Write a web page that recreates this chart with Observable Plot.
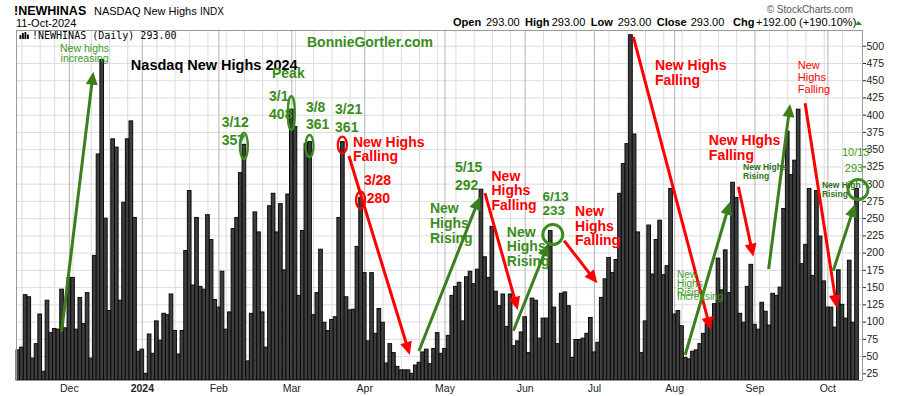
<!DOCTYPE html>
<html><head><meta charset="utf-8">
<script src="https://cdn.jsdelivr.net/npm/d3@7"></script>
<script src="https://cdn.jsdelivr.net/npm/@observablehq/plot@0.6"></script>
<style>body{margin:0;background:#fff;} svg{display:block}</style>
</head><body><div id="chart"></div>
<script>
// ---- data ----
const startDate = "2023-11-10";
const endDate = "2024-10-11";
const holidays = ["2023-11-23","2023-12-25","2024-01-01","2024-01-15","2024-02-19","2024-03-29","2024-05-27","2024-06-19","2024-07-04","2024-09-02"];
const novValues = [59,63,139,136,47,68,111,28,131,84,90,89,147,91];
const decValues = [164,164,89,135,97,142,47,196,343,480,250,116,365,353,131,273,365,391,251,57];
const janValues = [60,25,82,54,101,73,112,110,140,87,53,87,203,290,153,251,151,147,255,219,132];
const febValues = [121,173,89,114,235,251,316,357,43,112,259,230,114,63,268,286,230,271,175,285];
const marValues = [408,383,138,232,358,361,110,142,205,99,87,103,107,251,361,136,117,118,209,280];
const aprValues = [171,72,171,83,119,99,40,68,55,35,30,30,30,25,37,41,56,60,39,61,84,54];
const mayValues = [61,80,138,151,157,101,165,173,155,176,292,194,164,238,144,123,140,93,140,65,72,85];
const junValues = [107,55,134,131,76,105,105,232,121,68,141,143,123,48,74,74,76,83,106];
const julValues = [56,70,135,162,193,171,190,286,329,358,516,372,230,55,101,240,169,219,247,168,181,293];
const augValues = [111,116,94,48,46,57,59,68,83,97,105,126,192,146,204,142,302,280,112,99,151,183];
const sepValues = [96,89,128,115,95,141,138,150,264,376,313,334,408,184,212,293,167,290,224,159];
const octValues = [121,121,92,175,125,105,189,99,293];
const monthLabels = ["Dec","2024","Feb","Mar","Apr","May","Jun","Jul","Aug","Sep","Oct"];
const yTicks = [25,50,75,100,125,150,175,200,225,250,275,300,325,350,375,400,425,450,475,500];
const yDomain = [15.3, 522.8];

// annotations in data units: [text, barIndex, value, style]
const noteTexts = [
 ["New highs", 18.3, 490.9, "smallGreenMid"],
 ["increasing", 18.3, 476.4, "smallGreenMid"],
 ["Nasdaq New Highs 2024", 31.0, 464.8, "title"],
 ["BonnieGortler.com", 79.3, 498.8, "site"],
 ["Peak", 69.7, 453.2, "green"],
 ["3/12", 55.9, 382.6, "green"], ["357", 55.9, 356, "green"],
 ["3/1", 68.9, 420.2, "green"], ["408", 68.9, 393.7, "green"],
 ["3/8", 79.0, 404.3, "green"], ["361", 79.0, 379.2, "green"],
 ["3/21", 87.0, 400.9, "green"], ["361", 87.0, 375.3, "green"],
 ["New Highs", 91.9, 353.5, "red"], ["Falling", 91.9, 332.8, "red"],
 ["3/28", 94.9, 298, "red"], ["280", 95.7, 271.9, "red"],
 ["New", 113.0, 257.9, "green"], ["Highs", 113.0, 235.7, "green"], ["Rising", 113.0, 213.9, "green"],
 ["5/15", 119.9, 317.3, "green"], ["292", 119.9, 290.8, "green"],
 ["New", 129.9, 304.3, "red"], ["Highs", 129.9, 283.5, "red"], ["Falling", 129.9, 261.8, "red"],
 ["New", 134.1, 223, "green"], ["Highs", 134.1, 202.3, "green"], ["Rising", 134.1, 181.3, "green"],
 ["6/13", 143.9, 275.3, "greenMid"], ["233", 143.9, 254.5, "greenMid"],
 ["New", 152.8, 253.5, "red"], ["Highs", 152.8, 232, "red"], ["Falling", 152.8, 211, "red"],
 ["New Highs", 174.7, 465.5, "red"], ["Falling", 174.7, 443, "red"],
 ["New", 180.8, 163.2, "tinyGreen"], ["Highs", 180.8, 150.1, "tinyGreen"],
 ["Rising", 180.8, 137.1, "tinyGreen"], ["Increasing", 180.8, 131.3, "tinyGreen"],
 ["New HIghs", 189.5, 356, "red"], ["Falling", 189.5, 334.3, "red"],
 ["New Highs", 198.9, 319.8, "microGreen"], ["Rising", 198.9, 306.7, "microGreen"],
 ["New", 213.9, 466.2, "smallRed"], ["Highs", 213.9, 448.8, "smallRed"], ["Falling", 213.9, 431.4, "smallRed"],
 ["10/13", 226.0, 340.1, "smallGreen"], ["293", 226.8, 317.3, "smallGreen"],
 ["New High", 220.5, 293.7, "microGreen"], ["Rising", 220.5, 280.6, "microGreen"]
];
// arrows: [fromIndex, fromValue, toIndex, toValue, colour key]
const noteArrows = [
 [12.0, 85.3, 20.7, 462.3, "g"],
 [90.8, 340.1, 107.5, 51.5, "r"],
 [110.0, 57.4, 126.7, 280.8, "g"],
 [128.1, 286.3, 137.1, 116.8, "r"],
 [135.9, 86.8, 145.5, 213.5, "g"],
 [149.8, 217.3, 158.9, 155.5, "r"],
 [168.8, 513, 190.0, 87.8, "r"],
 [183.0, 51.5, 195.3, 273.8, "g"],
 [197.6, 295.6, 201.7, 194.1, "r"],
 [205.9, 176.2, 211.8, 415.5, "g"],
 [215.9, 416.5, 224.6, 119.7, "r"],
 [223.6, 173.8, 229.6, 270.5, "g"]
];
// rings: [centerIndex, centerValue, colour key, shape key]
const noteRings = [
 [62, 354.6, "g", "tall"],
 [75, 402.4, "g", "taller"],
 [80, 354.6, "g", "mid"],
 [89, 356, "r", "short"],
 [94, 276.3, "r", "short"],
 [146.7, 226.2, "g", "round"],
 [230.4, 291.5, "g", "round"]
];

// ---- styles ----
const GREEN = "#3a8c1c", GREEN_ARROW = "#3b7f1d", RED = "#ff0000";
const textStyles = {
  title: {fill: "#000", size: 14.5, weight: "bold"},
  site: {fill: GREEN, size: 14, weight: "bold"},
  green: {fill: GREEN, size: 14, weight: "bold"},
  greenMid: {fill: GREEN, size: 13.5, weight: "bold"},
  red: {fill: RED, size: 14, weight: "bold"},
  smallGreenMid: {fill: "#3c9a24", size: 10.5, weight: "normal", anchor: "middle"},
  tinyGreen: {fill: "#3c9a24", size: 10, weight: "normal"},
  microGreen: {fill: "#2f701a", size: 8.5, weight: "bold"},
  smallRed: {fill: RED, size: 11, weight: "normal"},
  smallGreen: {fill: "#3c9a24", size: 11, weight: "normal"}
};
const ringShapes = {tall: [4, 13], taller: [3.5, 17], mid: [4, 11], short: [4.5, 8.5], round: [10, 10]};
const colorKey = {g: GREEN_ARROW, r: RED};

// ---- trading calendar ----
const dates = [];
for (let d = new Date(startDate + "T00:00:00Z"); d <= new Date(endDate + "T00:00:00Z"); d.setUTCDate(d.getUTCDate() + 1)) {
  const wd = d.getUTCDay(), iso = d.toISOString().slice(0, 10);
  if (wd === 0 || wd === 6 || holidays.includes(iso)) continue;
  dates.push(new Date(d));
}
const values = [...novValues, ...decValues, ...janValues, ...febValues, ...marValues, ...aprValues,
  ...mayValues, ...junValues, ...julValues, ...augValues, ...sepValues, ...octValues];
const rows = values.map((v, i) => ({i, v, date: dates[i]}));
const monthStarts = [], weekStarts = [];
for (let i = 1; i < dates.length; i++) {
  if (dates[i].getUTCMonth() !== dates[i-1].getUTCMonth()) monthStarts.push(i);
  else if (dates[i].getUTCDay() < dates[i-1].getUTCDay() || (dates[i] - dates[i-1]) > 3 * 864e5) weekStarts.push(i);
}
const labelMap = new Map(monthStarts.map((m, k) => [m, monthLabels[k]]));

const chart = Plot.plot({
  width: 900, height: 396,
  marginTop: 30, marginRight: 38, marginBottom: 16, marginLeft: 16,
  style: {fontFamily: "'Liberation Sans', Arial, sans-serif", fontSize: "10.5px", background: "#fff", color: "#222"},
  x: {type: "linear", domain: [-0.5, rows.length + 0.5]},
  y: {type: "linear", domain: yDomain},
  marks: [
    Plot.ruleY(yTicks, {stroke: "#dcdcdc"}),
    Plot.ruleX(weekStarts, {stroke: "#dcdcdc"}),
    Plot.ruleX(monthStarts, {stroke: "#b4b4b4"}),
    Plot.rect(rows, {x1: d => d.i - 0.5, x2: d => d.i + 0.5, y1: yDomain[0], y2: "v", fill: "#3e3e3e", stroke: "#0a0a0a", strokeWidth: 1}),
    Plot.frame({stroke: "#999"}),
    Plot.axisY(yTicks, {anchor: "right", tickSize: 3, tickPadding: 1, label: null, fontSize: 10.5, tickFormat: d => String(d)}),
    Plot.axisX(monthStarts, {anchor: "bottom", tickSize: 0, tickPadding: 4, label: null, fontSize: 10.5, tickFormat: d => labelMap.get(d)})
  ]
});
document.getElementById("chart").appendChild(chart);

const svg = d3.select(chart);
svg.selectAll("text").filter(function() { return this.textContent === "2024"; }).attr("font-weight", "bold");
const sx = chart.scale("x"), sy = chart.scale("y");
const X = v => sx.apply(v), Y = v => sy.apply(v);
const notes = svg.append("g").attr("class", "notes").attr("text-anchor", "start")
  .attr("font-family", "'Liberation Sans', Arial, sans-serif");

// rings
for (const [ci, cv, ck, sk] of noteRings) {
  const [rx, ry] = ringShapes[sk];
  notes.append("ellipse").attr("cx", X(ci)).attr("cy", Y(cv)).attr("rx", rx).attr("ry", ry)
    .attr("fill", "none").attr("stroke", ck === "g" ? GREEN : RED).attr("stroke-width", sk === "round" ? 3 : 2.3);
}
// arrows
for (const [i1, v1, i2, v2, ck] of noteArrows) {
  const x1 = X(i1), y1 = Y(v1), x2 = X(i2), y2 = Y(v2);
  const dx = x2 - x1, dy = y2 - y1, L = Math.hypot(dx, dy), ux = dx / L, uy = dy / L;
  const hl = 13, hw = 12;
  const bx = x2 - ux * hl, by = y2 - uy * hl, px = -uy, py = ux;
  notes.append("line").attr("x1", x1).attr("y1", y1).attr("x2", bx + ux).attr("y2", by + uy)
    .attr("stroke", colorKey[ck]).attr("stroke-width", 3);
  notes.append("path").attr("d", `M${x2},${y2}L${bx + px * hw / 2},${by + py * hw / 2}L${bx - px * hw / 2},${by - py * hw / 2}Z`)
    .attr("fill", colorKey[ck]);
}
// texts
for (const [t, i, v, s] of noteTexts) {
  const st = textStyles[s];
  notes.append("text").attr("x", X(i)).attr("y", Y(v)).attr("fill", st.fill)
    .attr("font-size", st.size).attr("font-weight", st.weight)
    .attr("text-anchor", st.anchor || "start").text(t);
}

// ---- header (layout text) ----
const head = svg.append("g").attr("text-anchor", "start")
  .attr("font-family", "'Liberation Sans', Arial, sans-serif").attr("fill", "#000");
head.append("text").attr("x", 14).attr("y", 15).attr("font-size", 12.5).attr("font-weight", "bold").text("!NEWHINAS");
head.append("text").attr("x", 94).attr("y", 15).attr("font-size", 11).text("NASDAQ New Highs");
head.append("text").attr("x", 200).attr("y", 15).attr("font-size", 10).text("INDX");
head.append("text").attr("x", 16).attr("y", 27).attr("font-size", 11).text("11-Oct-2024");
head.append("text").attr("x", 853).attr("y", 13).attr("font-size", 10).attr("fill", "#555").attr("text-anchor", "end").text("\u00A9 StockCharts.com");
const quote = [["Open", 453, true], ["293.00", 486, false], ["High", 525, true], ["293.00", 551.7, false],
  ["Low", 590.7, true], ["293.00", 617.7, false], ["Close", 656.7, true], ["293.00", 690.7, false],
  ["Chg", 733, true], ["+192.00 (+190.10%)", 756, false]];
for (const [t, x, b] of quote) head.append("text").attr("x", x).attr("y", 26).attr("font-size", 11).attr("font-weight", b ? "bold" : "normal").text(t);
head.append("path").attr("d", "M855,25L858.5,21L862,25Z").attr("fill", "#2e8b2e");
const icon = head.append("g").attr("fill", "#000");
[[19.5, 35, 4], [22, 33, 6], [24.5, 32, 7], [27, 34.5, 4.5]].forEach(([x, y, h]) => icon.append("rect").attr("x", x).attr("y", y).attr("width", 1.8).attr("height", h));
head.append("text").attr("x", 32).attr("y", 39).attr("font-size", 10).attr("font-family", "'DejaVu Sans Mono', monospace").text("!NEWHINAS (Daily) 293.00");
</script>
</body></html>
